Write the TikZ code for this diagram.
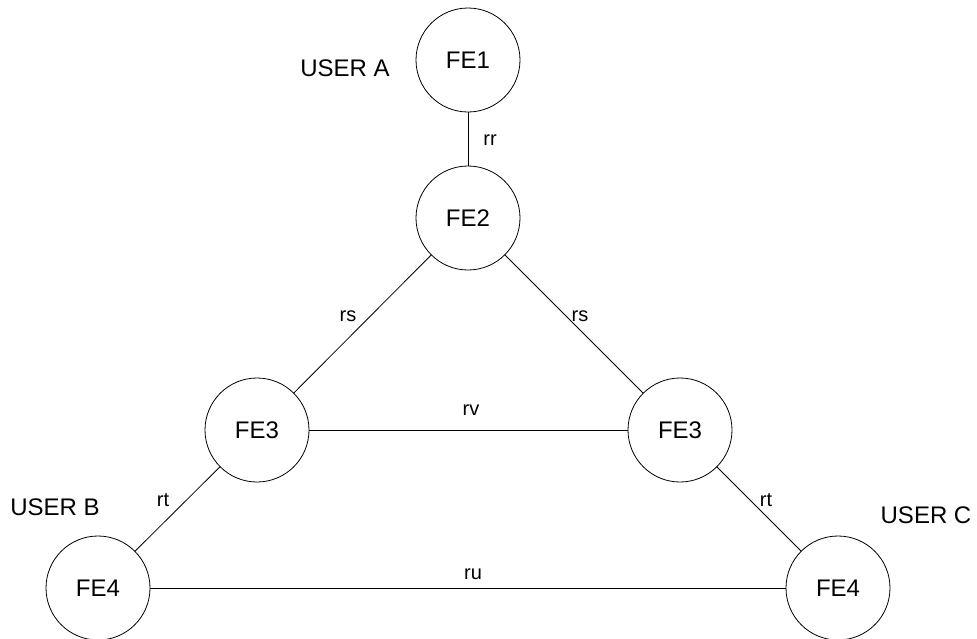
\documentclass[tikz,border=0pt]{standalone}
\usepackage{fontspec}
\setmainfont{Liberation Sans}
\begin{document}
\begin{tikzpicture}[x=1pt,y=-1pt,
  fe/.style={draw=black, line width=0.8pt, circle, minimum size=104pt, inner sep=0pt,
             font=\fontsize{24}{28}\selectfont},
  user/.style={font=\fontsize{24}{28}\selectfont, inner sep=0pt},
  lbl/.style={font=\fontsize{20}{24}\selectfont, inner sep=0pt},
  link/.style={draw=black, line width=0.8pt}]
  \useasboundingbox (0,0) rectangle (977,638);

  % functional entities
  \node[fe] (fe1)  at (468,60)  {FE1};
  \node[fe] (fe2)  at (468,218) {FE2};
  \node[fe] (fe3l) at (257,430) {FE3};
  \node[fe] (fe3r) at (680,430) {FE3};
  \node[fe] (fe4l) at (98,588)  {FE4};
  \node[fe] (fe4r) at (838,588) {FE4};

  % users
  \node[user] (ua) at (345,68)  {USER A};
  \node[user] (ub) at (55,507)  {USER B};
  \node[user] (uc) at (926,515) {USER C};

  % reference points
  \draw[link] (fe1) -- (fe2);
  \draw[link] (fe2) -- (fe3l);
  \draw[link] (fe2) -- (fe3r);
  \draw[link] (fe3l) -- (fe3r);
  \draw[link] (fe3l) -- (fe4l);
  \draw[link] (fe3r) -- (fe4r);
  \draw[link] (fe4l) -- (fe4r);

  \node[lbl] (lrr)  at (490,140) {rr};
  \node[lbl] (lrs1) at (348,316) {rs};
  \node[lbl] (lrs2) at (580,316) {rs};
  \node[lbl] (lrv)  at (471,410) {rv};
  \node[lbl] (lrt1) at (163,500) {rt};
  \node[lbl] (lrt2) at (766,500) {rt};
  \node[lbl] (lru)  at (473,574) {ru};
\end{tikzpicture}
\end{document}
